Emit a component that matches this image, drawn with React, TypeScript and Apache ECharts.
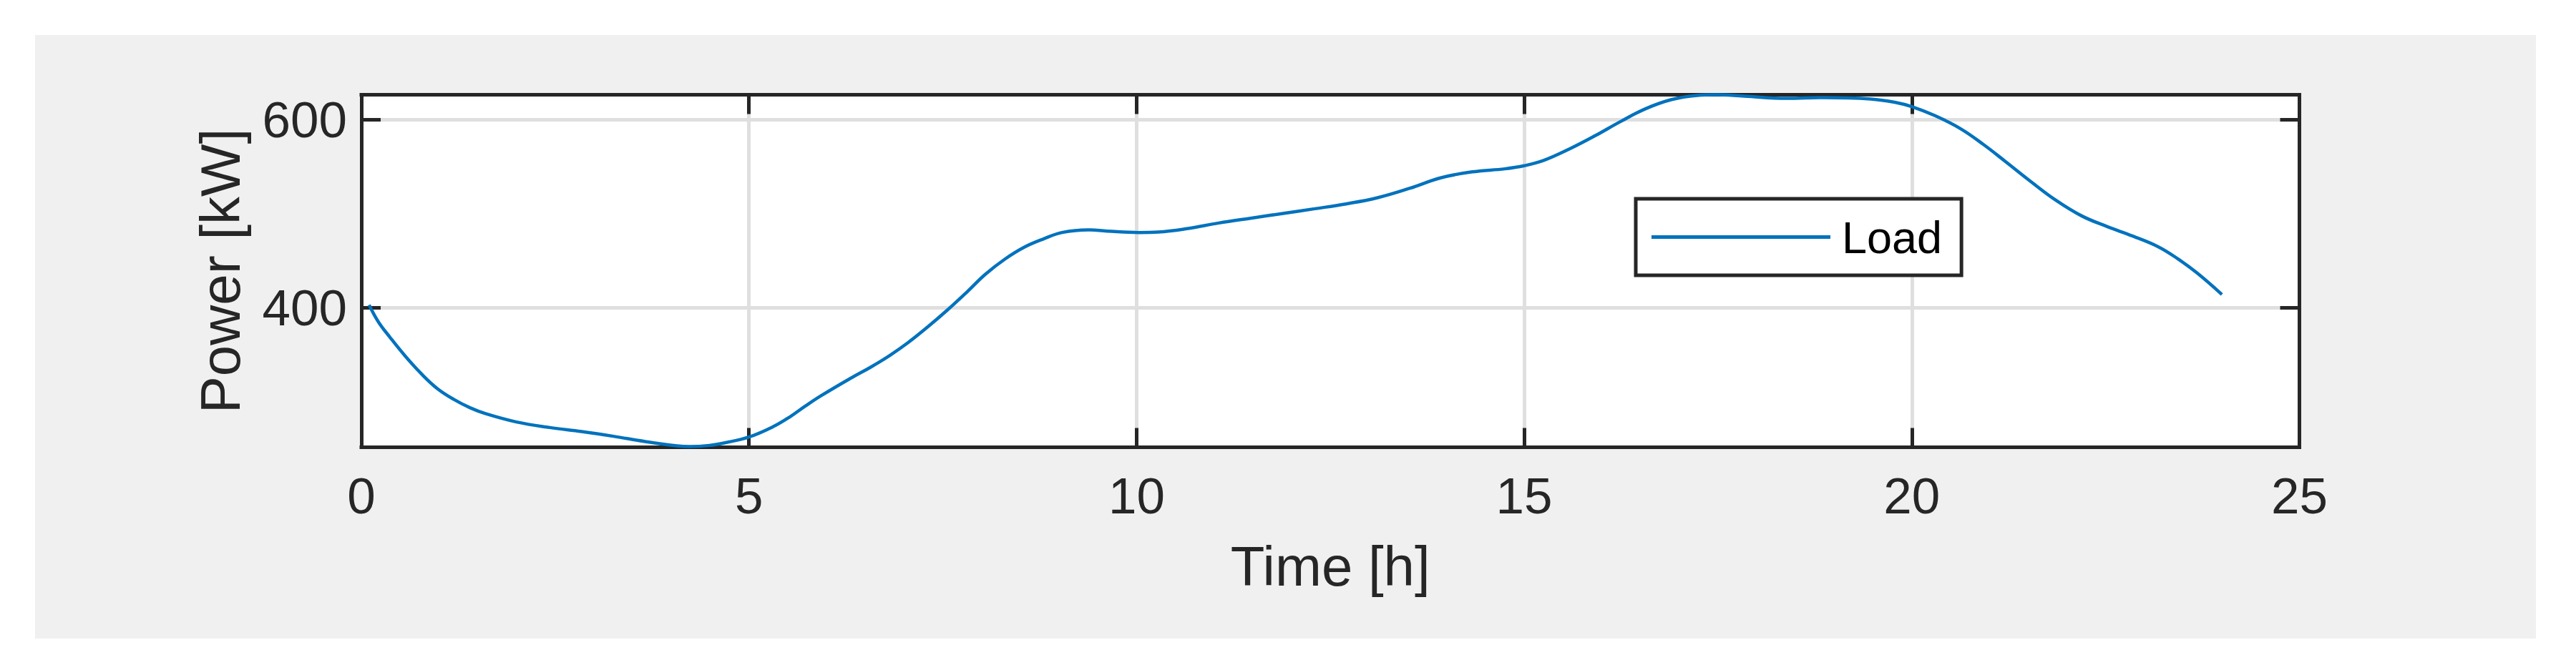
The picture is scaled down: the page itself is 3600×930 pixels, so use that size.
import React, { useEffect, useRef } from "react";
import * as echarts from "echarts";

// ---- data ----
const timeHours = [
  0.1, 0.22, 0.37, 0.57, 0.78, 0.98, 1.19, 1.4, 1.6, 2.0, 2.43, 2.84, 3.25, 3.66, 4.07, 4.24, 4.49, 4.69,
  5.0, 5.31, 5.52, 5.72, 5.93, 6.32, 6.57, 6.82, 7.06, 7.31, 7.56, 7.81, 8.05, 8.3, 8.55, 8.8, 9.04,
  9.37, 9.62, 10.03, 10.28, 10.65, 11.06, 11.47, 11.89, 12.3, 12.7, 13.1, 13.52, 13.93, 14.34, 14.75, 15.0,
  15.25, 15.58, 15.91, 16.24, 16.57, 16.9, 17.23, 17.47, 17.84, 18.38, 18.87, 19.47, 19.8, 20.0, 20.3,
  20.63, 20.92, 21.2, 21.53, 21.86, 22.19, 22.52, 22.85, 23.18, 23.43, 23.68, 24.0,
];
const loadKW = [
  403, 385, 368.6, 348.3, 329.3, 314.1, 302.7, 293.8, 287.5, 278.6, 272.7, 268.4, 263.4, 257.8, 253.2, 252.5,
  253.7, 256.5, 262.6, 273.5, 283.6, 295.1, 306.5, 325.5, 336.9, 349.6, 363.5, 380, 397.7, 416.7,
  435.7, 451.7, 464.4, 473.3, 480.1, 482.9, 481.6, 480.1, 480.6, 484.2, 490.2, 495.3, 500.4, 505.4, 510.5,
  516.9, 527, 538.4, 544.7, 547.8, 551.1, 556.7, 568.8, 582.8, 598, 611.9, 621.5, 625.9, 626.6, 625.1, 622.8,
  623.6, 622.1, 618.3, 614, 604.3, 590.4, 573.9, 556.1, 534.6, 514.3, 497.8, 486.4, 476.3, 464.9, 452.2,
  437, 414.2,
];
const xTickValues = [0, 5, 10, 15, 20, 25];
const yTickValues = [400, 600];
const xRange = [0, 25];
const yRange = [251.7, 626.6];
const seriesName = "Load";
const xTitle = "Time [h]";
const yTitle = "Power [kW]";

const FONT = "'Liberation Sans', Arial, Helvetica, sans-serif";
const AX = "#262626";
const GRIDC = "#dfdfdf";
const BLUE = "#0072BD";

export default function App() {
  const ref = useRef<HTMLDivElement>(null);

  useEffect(() => {
    if (!ref.current) return;
    const chart = echarts.init(ref.current, null, { renderer: "svg" });

    const G = { left: 505, top: 132.5, width: 2708.5, height: 493 };
    const xInterval = xTickValues[1] - xTickValues[0];

    const boxAxisLine = { show: true, onZero: false, lineStyle: { color: AX, width: 5, cap: "square" } };
    const tickStyle = { show: true, inside: true, length: 27, lineStyle: { color: AX, width: 5 } };

    const option: any = {
      animation: false,
      backgroundColor: "#ffffff",
      textStyle: { fontFamily: FONT },
      graphic: {
        elements: [
          {
            type: "rect",
            z: -100,
            shape: { x: 49, y: 49, width: 3495, height: 844 },
            style: { fill: "#f0f0f0" },
            silent: true,
          },
        ],
      },
      grid: {
        left: G.left,
        top: G.top,
        width: G.width,
        height: G.height,
        show: true,
        backgroundColor: "#ffffff",
        borderWidth: 0,
        containLabel: false,
      },
      legend: {
        show: true,
        left: 2286,
        top: 278,
        orient: "horizontal",
        padding: [22, 27, 22, 22],
        backgroundColor: "#ffffff",
        borderColor: AX,
        borderWidth: 5,
        borderRadius: 0,
        itemWidth: 250,
        itemHeight: 5,
        itemGap: 0,
        icon: "rect",
        itemStyle: { color: BLUE },
        textStyle: {
          fontFamily: FONT,
          fontSize: 63,
          color: "#000000",
          padding: [0, 0, 0, 11],
        },
        data: [seriesName],
      },
      xAxis: [
        {
          type: "value",
          position: "bottom",
          min: xRange[0],
          max: xRange[1],
          interval: xInterval,
          z: 1,
          axisLine: boxAxisLine,
          axisTick: tickStyle,
          axisLabel: {
            show: true,
            fontFamily: FONT,
            fontSize: 71,
            color: AX,
            margin: 32,
          },
          splitLine: { show: false },
          name: xTitle,
          nameLocation: "middle",
          nameGap: 127,
          nameTextStyle: { fontFamily: FONT, fontSize: 78, color: AX },
        },
        {
          type: "value",
          position: "top",
          min: xRange[0],
          max: xRange[1],
          interval: xInterval,
          z: 0,
          axisLine: boxAxisLine,
          axisTick: tickStyle,
          axisLabel: { show: false },
          splitLine: { show: true, lineStyle: { color: GRIDC, width: 5 } },
        },
      ],
      yAxis: [
        {
          type: "value",
          position: "left",
          min: yRange[0],
          max: yRange[1],
          z: 1,
          axisLine: boxAxisLine,
          axisTick: { ...tickStyle, customValues: yTickValues },
          axisLabel: {
            show: true,
            fontFamily: FONT,
            fontSize: 71,
            color: AX,
            margin: 20,
            customValues: yTickValues,
          },
          splitLine: { show: false },
          name: yTitle,
          nameLocation: "middle",
          nameGap: 158,
          nameTextStyle: { fontFamily: FONT, fontSize: 78, color: AX },
        },
        {
          type: "value",
          position: "right",
          min: yRange[0],
          max: yRange[1],
          z: 0,
          axisLine: boxAxisLine,
          axisTick: { ...tickStyle, customValues: yTickValues },
          axisLabel: { show: false, customValues: yTickValues },
          splitLine: { show: true, lineStyle: { color: GRIDC, width: 5 } },
        },
      ],
      series: [
        {
          name: seriesName,
          type: "line",
          xAxisIndex: 0,
          yAxisIndex: 0,
          z: 2,
          data: timeHours.map((t, i) => [t, loadKW[i]]),
          showSymbol: false,
          symbol: "none",
          smooth: 0.4,
          clip: false,
          color: BLUE,
          itemStyle: { color: BLUE },
          lineStyle: { color: BLUE, width: 4.5 },
        },
      ],
    };

    chart.setOption(option);
    return () => chart.dispose();
  }, []);

  return (
    <div
      ref={ref}
      style={{ position: "absolute", left: 0, top: 0, width: 3600, height: 930 }}
    />
  );
}
